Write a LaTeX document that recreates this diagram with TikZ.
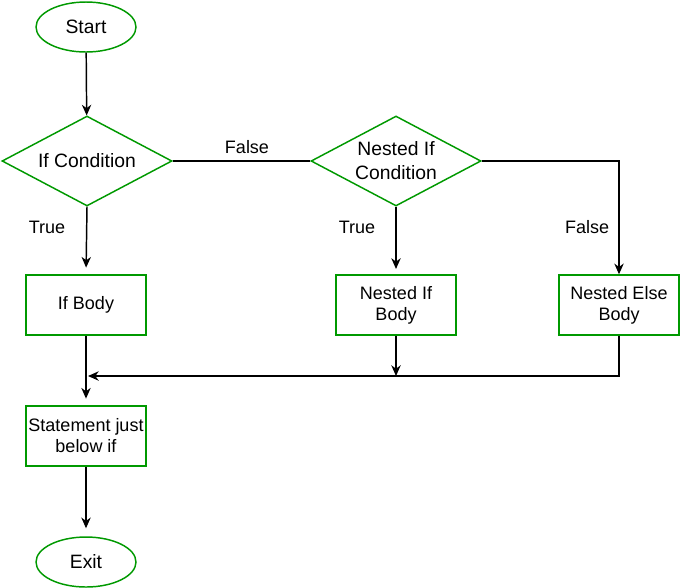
\documentclass[tikz,border=0pt]{standalone}
\usepackage{fontspec}
\setmainfont{Liberation Sans}
\usetikzlibrary{shapes.geometric,arrows.meta}
\definecolor{boxgreen}{RGB}{0,153,0}
\tikzset{
  flowline/.style={draw=black, line width=1.1pt, -{Stealth[length=8pt,width=7pt,inset=2.5pt]}},
  plainline/.style={draw=black, line width=1.1pt},
  terminal/.style={ellipse, draw=boxgreen, line width=1.1pt, minimum width=75pt, minimum height=37.5pt, inner sep=0pt, font=\fontsize{14.5}{17}\selectfont},
  decision/.style={diamond, draw=boxgreen, line width=1.1pt, aspect=1.9, minimum width=127.5pt, minimum height=67.5pt, inner sep=0pt, align=center, font=\fontsize{14.5}{18}\selectfont},
  process/.style={rectangle, draw=boxgreen, line width=1.1pt, minimum width=90pt, minimum height=45pt, inner sep=1pt, align=center, font=\fontsize{13.5}{15.75}\selectfont},
  edgelabel/.style={inner sep=0.75pt, font=\fontsize{13.5}{15}\selectfont}
}
\begin{document}
\begin{tikzpicture}[x=0.75pt,y=0.75pt,yscale=-1,xscale=1]
    \useasboundingbox (0,0) rectangle (680,587);
    % Terminals
    \node [terminal] (start) at (86,27) {Start};
    \node [terminal] (exit) at (86,562) {Exit};
    % Decisions
    \node [decision] (ifcond) at (87,161) {If Condition};
    \node [decision] (nestcond) at (396,161) {Nested If\\Condition};
    % Processes
    \node [process] (ifbody) at (86,305) {If Body};
    \node [process] (nestbody) at (396,305) {Nested If\\Body};
    \node [process] (elsebody) at (619,305) {Nested Else\\Body};
    \node [process] (below) at (86,436) {Statement just\\below if};
    \coordinate (merge) at (88,376);

    % Connectors
    \draw [flowline] (start) -- (ifcond);
    \draw [plainline] (ifcond.east) -- (nestcond.west);
    \draw [flowline, shorten >=5pt] (ifcond.south) -- (ifbody.north);
    \draw [flowline, shorten >=4pt] (nestcond.south) -- (nestbody.north);
    \draw [flowline] (nestcond.east) -| (elsebody.north);
    \draw [flowline, shorten >=5pt] (ifbody.south) -- (below.north);
    \draw [flowline] (nestbody.south) -- (nestbody.south |- merge);
    \draw [flowline] (elsebody.south) |- (merge);
    \draw [flowline, shorten >=6pt] (below.south) -- (exit.north);

    % Text Nodes
    \node [edgelabel] (lfalse) at (247,147) {False};
    \node [edgelabel] (ltrue) at (47,227) {True};
    \node [edgelabel] (ntrue) at (357,227) {True};
    \node [edgelabel] (nfalse) at (587,227) {False};
\end{tikzpicture}
\end{document}
